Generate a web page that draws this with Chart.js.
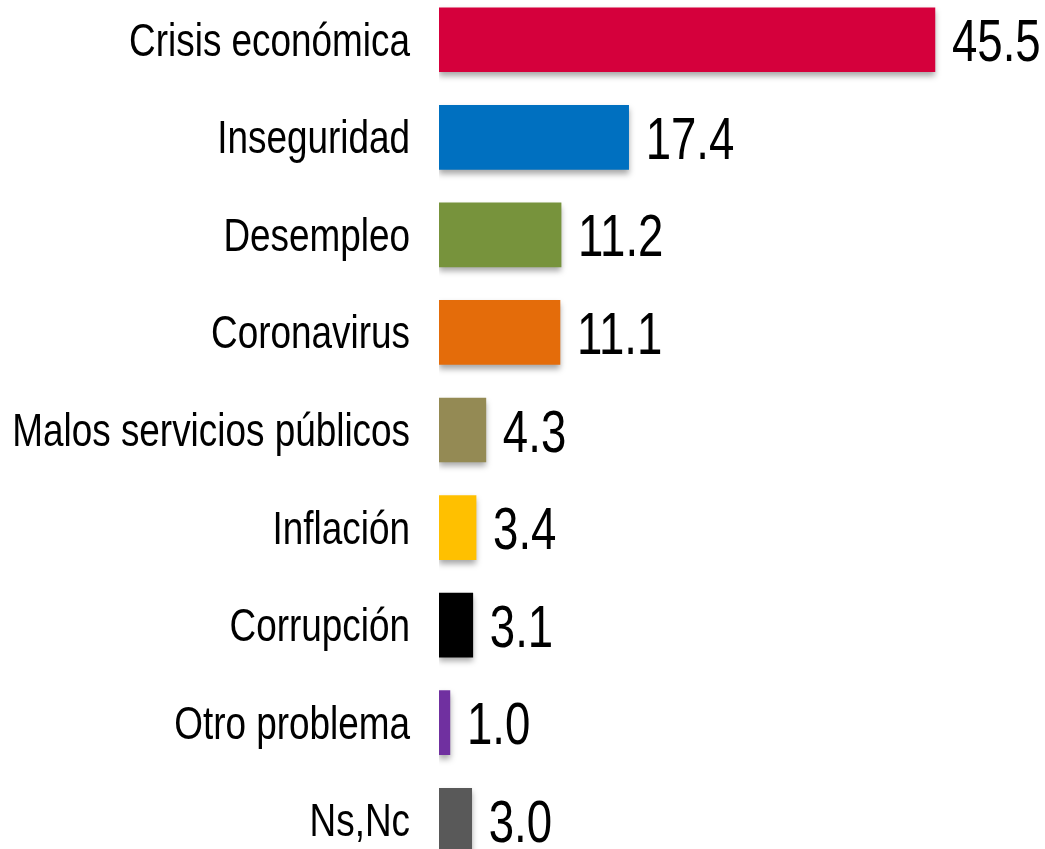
<!DOCTYPE html>
<html>
<head>
<meta charset="utf-8">
<script src="https://cdn.jsdelivr.net/npm/chart.js@4.4.0/dist/chart.umd.min.js"></script>
<style>
  html, body { margin: 0; padding: 0; background: #ffffff; overflow: hidden; }
  #wrap { position: absolute; left: 0; top: -9px; width: 1045px; height: 878px; }
</style>
</head>
<body>
<div id="wrap"><canvas id="c"></canvas></div>
<script>
const categories = ["Crisis económica", "Inseguridad", "Desempleo", "Coronavirus", "Malos servicios públicos", "Inflación", "Corrupción", "Otro problema", "Ns,Nc"];
const values = [45.5, 17.4, 11.2, 11.1, 4.3, 3.4, 3.1, 1.0, 3.0];
const valueLabels = ["45.5", "17.4", "11.2", "11.1", "4.3", "3.4", "3.1", "1.0", "3.0"];
const barColors = ["#D5003C", "#0070C0", "#77933C", "#E46C0A", "#948A54", "#FFC000", "#000000", "#7030A0", "#595959"];

const FONT = "'Liberation Sans Narrow', 'Liberation Sans', Arial, sans-serif";
const TICK_NARROW = 0.785;
const VALUE_NARROW = 0.76;
const LABEL_RIGHT = 410;

const shadowPlugin = {
  id: 'barShadow',
  beforeDatasetDraw(chart) {
    const ctx = chart.ctx;
    ctx.save();
    ctx.shadowColor = 'rgba(0,0,0,0.35)';
    ctx.shadowBlur = 6;
    ctx.shadowOffsetX = 0;
    ctx.shadowOffsetY = 4;
  },
  afterDatasetDraw(chart) {
    chart.ctx.restore();
  }
};

// condense the y-axis tick text horizontally (narrow typeface look)
const narrowTicksPlugin = {
  id: 'narrowTicks',
  afterLayout(chart) {
    const y = chart.scales.y;
    if (y._narrowPatched) return;
    const orig = y.drawLabels.bind(y);
    y._computeLabelArea = function () { return undefined; };
    y.drawLabels = function (area) {
      const ctx = chart.ctx;
      ctx.save();
      ctx.translate(LABEL_RIGHT, 3);
      ctx.scale(TICK_NARROW, 1);
      ctx.translate(-LABEL_RIGHT, 0);
      orig(area);
      ctx.restore();
    };
    y._narrowPatched = true;
  }
};

const labelPlugin = {
  id: 'valueLabels',
  afterDatasetsDraw(chart) {
    const ctx = chart.ctx;
    const meta = chart.getDatasetMeta(0);
    meta.data.forEach((bar, i) => {
      ctx.save();
      ctx.font = "60px " + FONT;
      ctx.fillStyle = "#000000";
      ctx.textAlign = "left";
      ctx.textBaseline = "middle";
      ctx.translate(bar.x + 17, bar.y + 5);
      ctx.scale(VALUE_NARROW, 1);
      ctx.fillText(valueLabels[i], 0, 0);
      ctx.restore();
    });
  }
};

new Chart(document.getElementById('c'), {
  type: 'bar',
  data: {
    labels: categories,
    datasets: [{
      data: values,
      backgroundColor: barColors,
      borderWidth: 0,
      barThickness: 64
    }]
  },
  options: {
    indexAxis: 'y',
    responsive: true,
    maintainAspectRatio: false,
    animation: false,
    layout: { padding: 0 },
    plugins: { legend: { display: false }, tooltip: { enabled: false } },
    scales: {
      x: { display: false, min: 0, max: 55.6 },
      y: {
        grid: { display: false, drawTicks: false },
        border: { display: false },
        ticks: {
          color: "#000000",
          padding: 29,
          font: { family: FONT, size: 47 }
        },
        afterFit(scale) {
          scale.width = 439;
          scale.paddingTop = 0;
          scale.paddingBottom = 0;
        }
      }
    }
  },
  plugins: [shadowPlugin, narrowTicksPlugin, labelPlugin]
});
</script>
</body>
</html>
